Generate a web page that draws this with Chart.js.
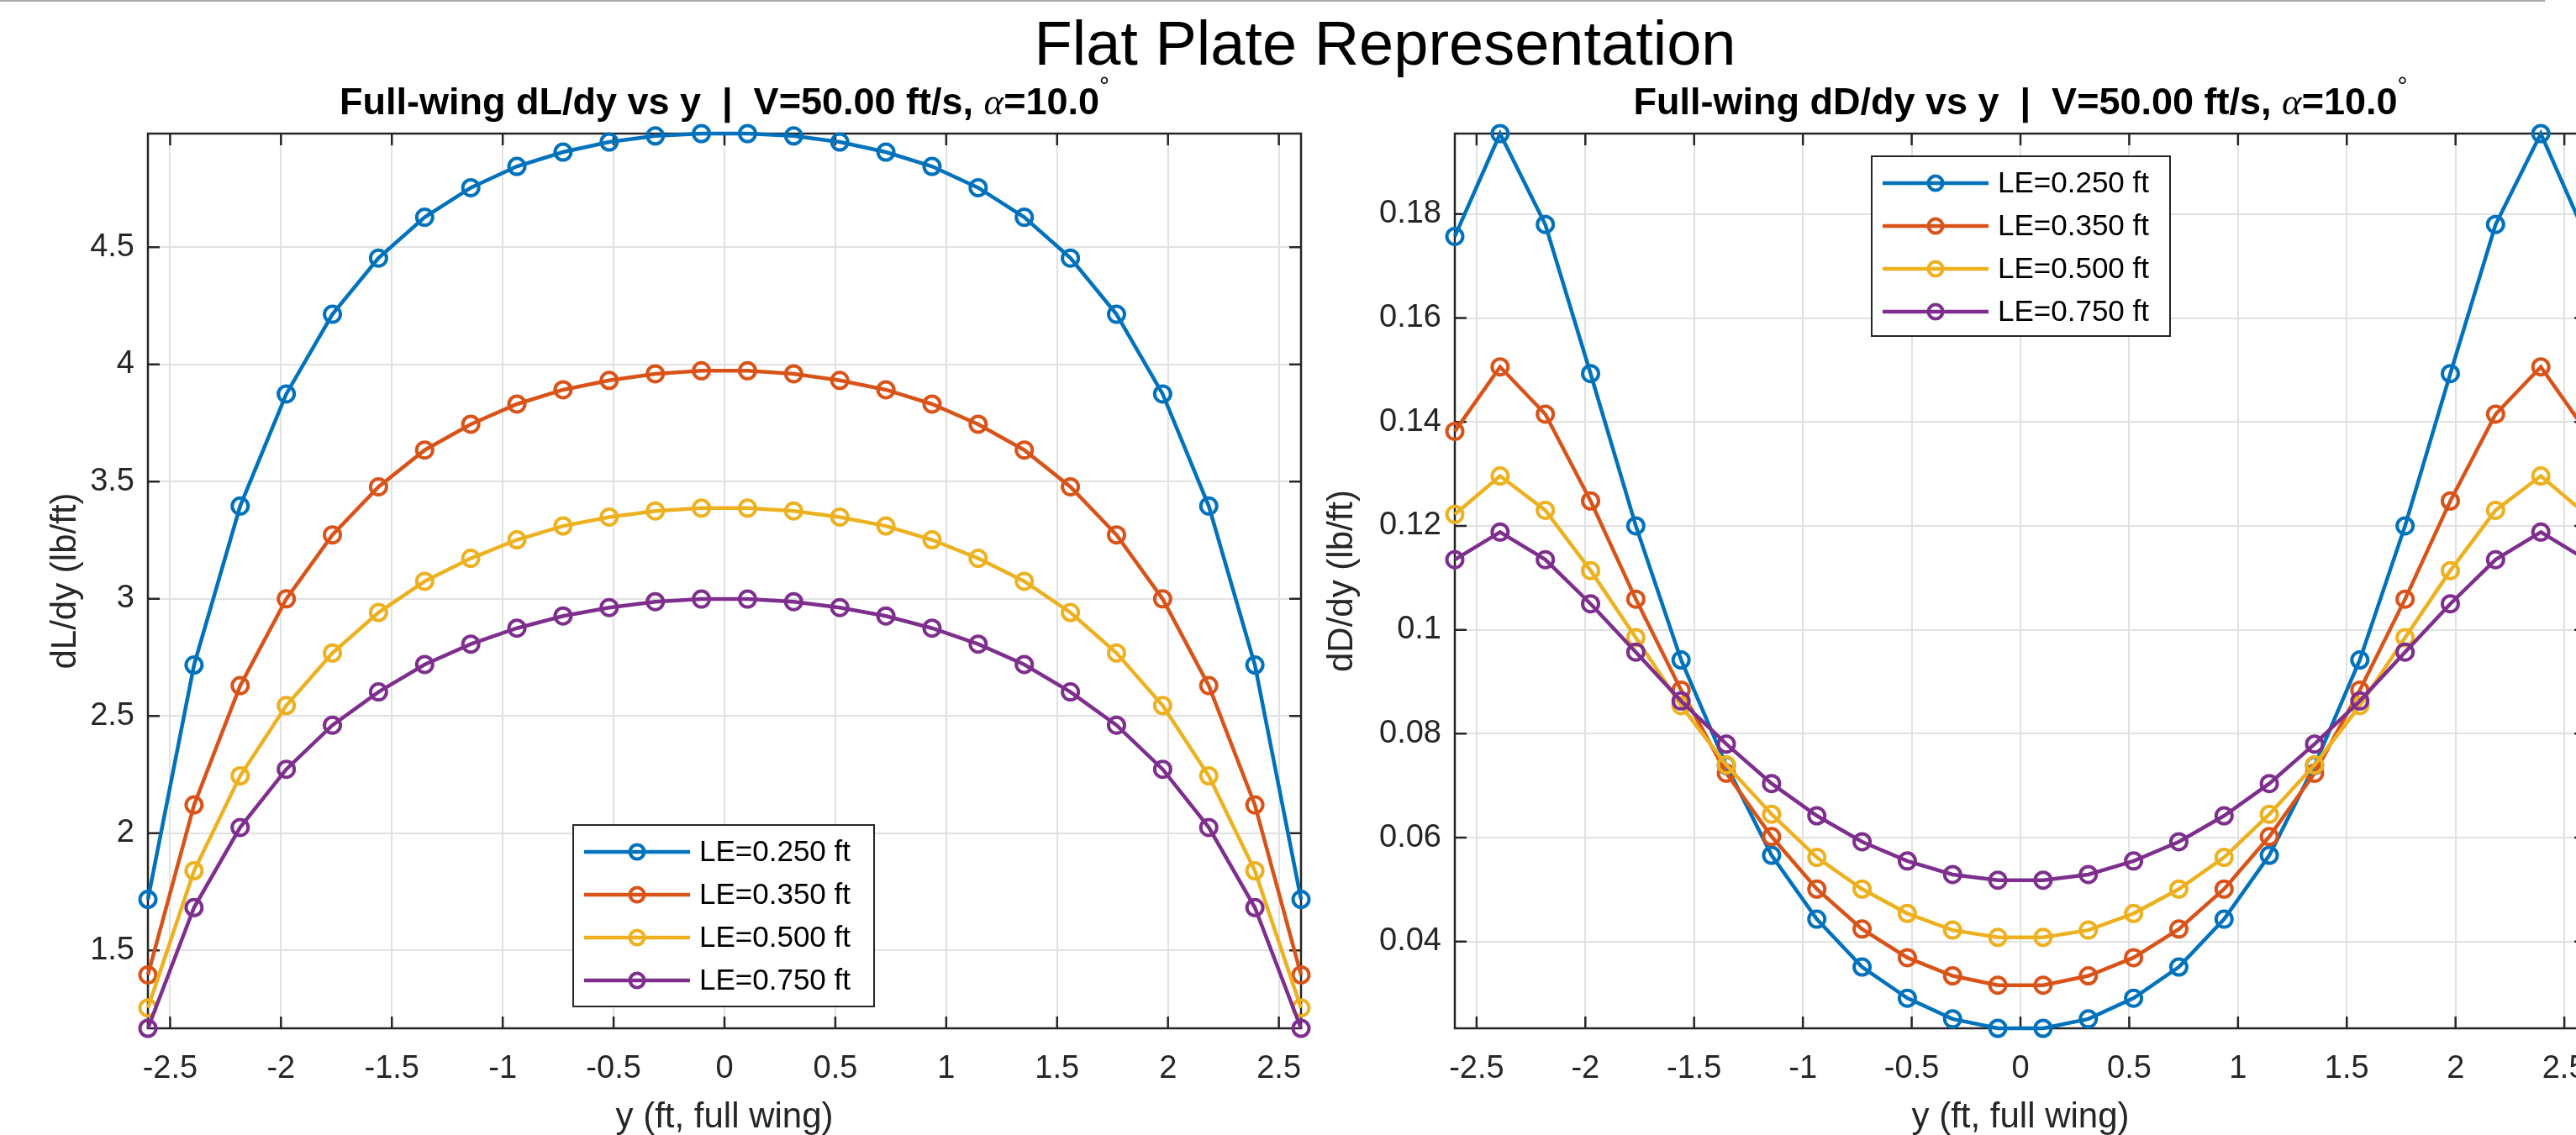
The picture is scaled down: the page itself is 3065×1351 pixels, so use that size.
<!DOCTYPE html>
<html>
<head>
<meta charset="utf-8">
<script src="https://cdn.jsdelivr.net/npm/chart.js@4.4.1/dist/chart.umd.min.js"></script>
<style>
    html, body { margin: 0; padding: 0; background: #ffffff; }
    body { width: 3065px; height: 1351px; overflow: hidden; position: relative; font-family: "Liberation Sans", Arial, sans-serif; }
    #topRule { position: absolute; left: 0; top: 0; width: 3028px; height: 2px; background: #a8a8a8; }
    #figTitle { position: absolute; top: 15px; left: 1648px; transform: translateX(-50%); font-size: 74px; line-height: 74px; white-space: nowrap; color: #000; z-index: 2; }
    .panel { position: absolute; top: 0; }
    #liftBox { left: 0; }
    #dragBox { left: 1560px; }
</style>
</head>
<body>
<div id="topRule"></div>
<div class="panel" id="liftBox"><canvas id="liftChart" width="1610" height="1351"></canvas></div>
<div class="panel" id="dragBox"><canvas id="dragChart" width="1610" height="1351"></canvas></div>
<div id="figTitle">Flat Plate Representation</div>
<script>
// spanwise stations (ft, full wing), same for every case
const spanY = [-2.6, -2.392, -2.184, -1.976, -1.768, -1.56, -1.352, -1.144, -0.936, -0.728, -0.52, -0.312, -0.104,
    0.104, 0.312, 0.52, 0.728, 0.936, 1.144, 1.352, 1.56, 1.768, 1.976, 2.184, 2.392, 2.6];

const caseLabels = ['LE=0.250 ft', 'LE=0.350 ft', 'LE=0.500 ft', 'LE=0.750 ft'];
const caseColors = ['#0072BD', '#D95319', '#EDB120', '#7E2F8E'];

// dL/dy (lb/ft)
const liftLE250 = [1.718, 2.718, 3.396, 3.874, 4.214, 4.454, 4.628, 4.754, 4.845, 4.906, 4.949, 4.975, 4.985,
    4.985, 4.975, 4.949, 4.906, 4.845, 4.754, 4.628, 4.454, 4.214, 3.874, 3.396, 2.718, 1.718];
const liftLE350 = [1.396, 2.121, 2.630, 3.000, 3.273, 3.478, 3.635, 3.745, 3.831, 3.892, 3.932, 3.960, 3.973,
    3.973, 3.960, 3.932, 3.892, 3.831, 3.745, 3.635, 3.478, 3.273, 3.000, 2.630, 2.121, 1.396];
const liftLE500 = [1.255, 1.840, 2.245, 2.545, 2.769, 2.942, 3.075, 3.173, 3.252, 3.311, 3.349, 3.375, 3.387,
    3.387, 3.375, 3.349, 3.311, 3.252, 3.173, 3.075, 2.942, 2.769, 2.545, 2.245, 1.840, 1.255];
const liftLE750 = [1.168, 1.683, 2.025, 2.273, 2.461, 2.603, 2.720, 2.807, 2.875, 2.927, 2.963, 2.988, 2.999,
    2.999, 2.988, 2.963, 2.927, 2.875, 2.807, 2.720, 2.603, 2.461, 2.273, 2.025, 1.683, 1.168];

// dD/dy (lb/ft)
const dragLE250 = [0.1757, 0.1955, 0.1780, 0.1493, 0.1200, 0.0942, 0.0739, 0.0566, 0.0443, 0.0351, 0.0291, 0.0251, 0.0233,
    0.0233, 0.0251, 0.0291, 0.0351, 0.0443, 0.0566, 0.0739, 0.0942, 0.1200, 0.1493, 0.1780, 0.1955, 0.1757];
const dragLE350 = [0.1382, 0.1506, 0.1415, 0.1248, 0.1059, 0.0884, 0.0724, 0.0602, 0.0501, 0.0424, 0.0369, 0.0334, 0.0316,
    0.0316, 0.0334, 0.0369, 0.0424, 0.0501, 0.0602, 0.0724, 0.0884, 0.1059, 0.1248, 0.1415, 0.1506, 0.1382];
const dragLE500 = [0.1222, 0.1296, 0.1230, 0.1114, 0.0985, 0.0854, 0.0740, 0.0645, 0.0562, 0.0501, 0.0454, 0.0422, 0.0408,
    0.0408, 0.0422, 0.0454, 0.0501, 0.0562, 0.0645, 0.0740, 0.0854, 0.0985, 0.1114, 0.1230, 0.1296, 0.1222];
const dragLE750 = [0.1135, 0.1188, 0.1135, 0.1050, 0.0957, 0.0863, 0.0780, 0.0704, 0.0642, 0.0592, 0.0555, 0.0529, 0.0518,
    0.0518, 0.0529, 0.0555, 0.0592, 0.0642, 0.0704, 0.0780, 0.0863, 0.0957, 0.1050, 0.1135, 0.1188, 0.1135];

// tick values
const xTicks = [-2.5, -2, -1.5, -1, -0.5, 0, 0.5, 1, 1.5, 2, 2.5];
const liftTicks = [1.5, 2, 2.5, 3, 3.5, 4, 4.5];
const dragTicks = [0.04, 0.06, 0.08, 0.1, 0.12, 0.14, 0.16, 0.18];

const FONT = '"Liberation Sans", Arial, sans-serif';
const AXIS_COLOR = '#262626';

function drawTitle(ctx, cx, baseline, parts) {
    let total = 0;
    parts.forEach((p) => {
        ctx.font = p.font;
        p.w = ctx.measureText(p.text).width;
        total += p.w;
    });
    let x = cx - total / 2;
    ctx.textAlign = 'left';
    ctx.textBaseline = 'alphabetic';
    parts.forEach((p) => {
        ctx.font = p.font;
        ctx.fillText(p.text, x, baseline + (p.rise || 0));
        x += p.w;
    });
}

// box, inward ticks, legend, titles - the MATLAB look
function makeFramePlugin(cfg) {
    return {
        id: 'matlabFrame',
        beforeDatasetsDraw(chart) {
            let ctx = chart.ctx, a = chart.chartArea, sx = chart.scales.x, sy = chart.scales.y;
            let len = 14;
            ctx.save();
            ctx.strokeStyle = AXIS_COLOR;
            ctx.lineWidth = 2.5;
            ctx.beginPath();
            xTicks.forEach((v) => {
                let px = sx.getPixelForValue(v);
                ctx.moveTo(px, a.bottom); ctx.lineTo(px, a.bottom - len);
                ctx.moveTo(px, a.top); ctx.lineTo(px, a.top + len);
            });
            cfg.yTicks.forEach((v) => {
                let py = sy.getPixelForValue(v);
                ctx.moveTo(a.left, py); ctx.lineTo(a.left + len, py);
                ctx.moveTo(a.right, py); ctx.lineTo(a.right - len, py);
            });
            ctx.stroke();
            ctx.strokeRect(a.left, a.top, a.right - a.left, a.bottom - a.top);
            ctx.restore();
        },
        afterDatasetsDraw(chart) {
            let ctx = chart.ctx, lg = cfg.legend;
            ctx.save();
            ctx.fillStyle = '#ffffff';
            ctx.fillRect(lg.left, lg.top, lg.w, lg.h);
            ctx.strokeStyle = AXIS_COLOR;
            ctx.lineWidth = 2;
            ctx.strokeRect(lg.left, lg.top, lg.w, lg.h);
            chart.data.datasets.forEach((ds, i) => {
                let ry = lg.top + 32 + i * 51;
                ctx.strokeStyle = ds.borderColor;
                ctx.lineWidth = 4.5;
                ctx.beginPath();
                ctx.moveTo(lg.left + 13, ry);
                ctx.lineTo(lg.left + 139, ry);
                ctx.stroke();
                ctx.lineWidth = 4;
                ctx.beginPath();
                ctx.arc(lg.left + 76, ry, 8.5, 0, Math.PI * 2);
                ctx.stroke();
                ctx.fillStyle = '#000000';
                ctx.font = `35px ${FONT}`;
                ctx.textAlign = 'left';
                ctx.textBaseline = 'middle';
                ctx.fillText(ds.label, lg.left + 150, ry + 1);
            });
            ctx.restore();
        },
        afterDraw(chart) {
            let ctx = chart.ctx, a = chart.chartArea;
            let cx = (a.left + a.right) / 2, cy = (a.top + a.bottom) / 2;
            ctx.save();
            ctx.fillStyle = '#000000';
            drawTitle(ctx, cx, 136, [
                { text: cfg.title, font: `bold 45px ${FONT}` },
                { text: 'α', font: 'italic 45px "Liberation Serif", serif' },
                { text: '=10.0', font: `bold 45px ${FONT}` },
                { text: '°', font: `30px ${FONT}`, rise: -24 }
            ]);
            ctx.fillStyle = AXIS_COLOR;
            ctx.font = `42px ${FONT}`;
            ctx.textAlign = 'center';
            ctx.textBaseline = 'middle';
            ctx.fillText('y (ft, full wing)', cx, 1330);
            ctx.translate(cfg.yLabelX, cy);
            ctx.rotate(-Math.PI / 2);
            ctx.fillText(cfg.yLabel, 0, 0);
            ctx.restore();
        }
    };
}

function buildChart(canvasId, series, cfg) {
    let datasets = series.map((vals, i) => ({
        label: caseLabels[i],
        data: spanY.map((y, k) => ({ x: y, y: vals[k] })),
        borderColor: caseColors[i],
        backgroundColor: caseColors[i],
        borderWidth: 4.5,
        pointRadius: 9.5,
        pointBorderWidth: 4,
        pointBackgroundColor: 'rgba(0,0,0,0)',
        pointBorderColor: caseColors[i],
        tension: 0,
        fill: false,
        clip: false,
        order: series.length - i
    }));
    let allVals = [].concat(...series);
    let tickFont = { family: FONT, size: 38 };
    return new Chart(document.getElementById(canvasId), {
        type: 'line',
        data: { datasets: datasets },
        options: {
            responsive: false,
            animation: false,
            events: [],
            layout: { padding: { top: 159, right: cfg.padRight, left: 0, bottom: 0 } },
            plugins: {
                legend: { display: false },
                tooltip: { enabled: false },
                title: { display: false }
            },
            scales: {
                x: {
                    type: 'linear',
                    min: spanY[0],
                    max: spanY[spanY.length - 1],
                    afterBuildTicks: (s) => { s.ticks = xTicks.map((v) => ({ value: v })); },
                    afterFit: (s) => { s.height = 127; },
                    grid: { color: '#e1e1e1', lineWidth: 2, drawTicks: false },
                    border: { display: false },
                    ticks: {
                        padding: 26, color: AXIS_COLOR, font: tickFont,
                        maxRotation: 0, autoSkip: false,
                        callback: (v) => String(v)
                    }
                },
                y: {
                    type: 'linear',
                    min: Math.min(...allVals),
                    max: Math.max(...allVals),
                    afterBuildTicks: (s) => { s.ticks = cfg.yTicks.map((v) => ({ value: v })); },
                    afterFit: (s) => { s.width = cfg.axisLeft; },
                    grid: { color: '#e1e1e1', lineWidth: 2, drawTicks: false },
                    border: { display: false },
                    ticks: {
                        padding: 16, color: AXIS_COLOR, font: tickFont,
                        autoSkip: false,
                        callback: (v) => String(v)
                    }
                }
            }
        },
        plugins: [makeFramePlugin(cfg)]
    });
}

buildChart('liftChart', [liftLE250, liftLE350, liftLE500, liftLE750], {
    title: 'Full-wing dL/dy vs y  |  V=50.00 ft/s, ',
    yLabel: 'dL/dy (lb/ft)',
    yLabelX: 78,
    yTicks: liftTicks,
    axisLeft: 176,
    padRight: 62,
    legend: { left: 682, top: 982, w: 358, h: 216 }
});

buildChart('dragChart', [dragLE250, dragLE350, dragLE500, dragLE750], {
    title: 'Full-wing dD/dy vs y  |  V=50.00 ft/s, ',
    yLabel: 'dD/dy (lb/ft)',
    yLabelX: 37,
    yTicks: dragTicks,
    axisLeft: 171,
    padRight: 93,
    legend: { left: 667, top: 186, w: 355, h: 214 }
});
</script>
</body>
</html>
